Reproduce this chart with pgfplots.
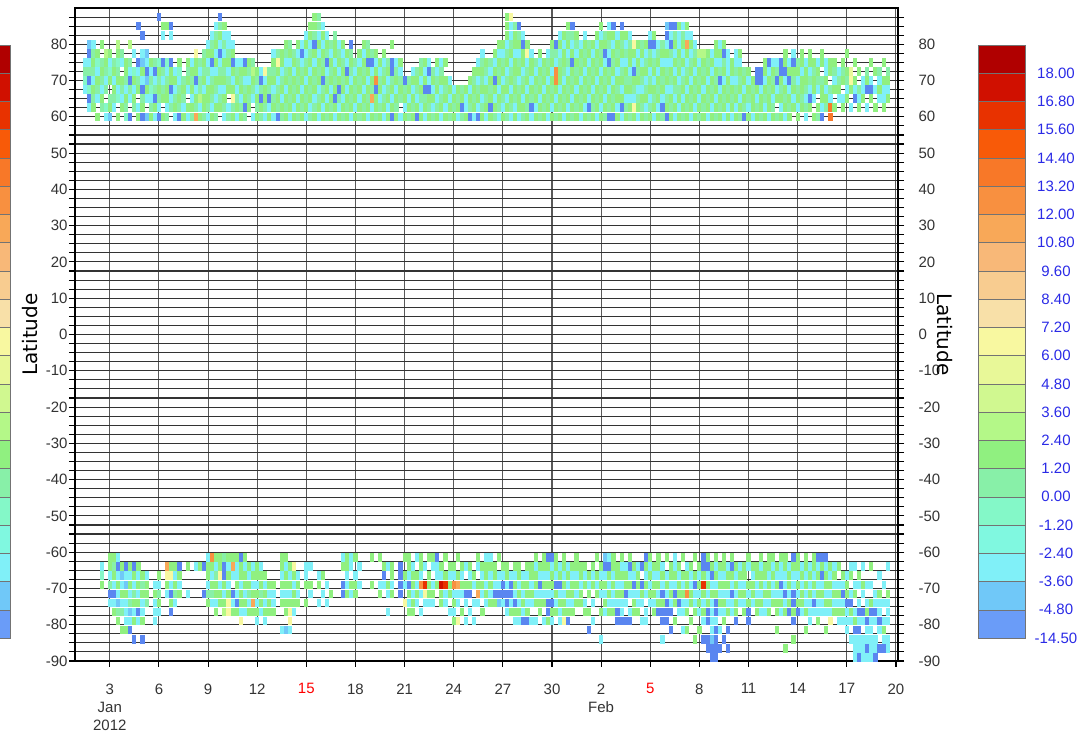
\documentclass[border=0pt]{standalone}
\usepackage{pgfplots}
\usepackage{pgfplotstable}
\pgfplotsset{compat=1.18}
\usepackage{fontspec}
\setmainfont{Liberation Sans}
\newfontfamily\dvs{DejaVu Sans}
\newcommand\tickfont{\fontsize{15}{18}\selectfont}
\newcommand\labfont{\dvs\fontsize{20}{24}\selectfont}
\definecolor{cA}{HTML}{B00000}
\definecolor{cB}{HTML}{D01000}
\definecolor{cC}{HTML}{E83200}
\definecolor{cD}{HTML}{F85A08}
\definecolor{cE}{HTML}{F87828}
\definecolor{cF}{HTML}{F89040}
\definecolor{cG}{HTML}{F8A858}
\definecolor{cH}{HTML}{F8B878}
\definecolor{cI}{HTML}{F8CC90}
\definecolor{cJ}{HTML}{F8E0A8}
\definecolor{cK}{HTML}{F8F8A0}
\definecolor{cL}{HTML}{E8F898}
\definecolor{cM}{HTML}{D0F890}
\definecolor{cN}{HTML}{B4F888}
\definecolor{cO}{HTML}{90F080}
\definecolor{cP}{HTML}{88F0A8}
\definecolor{cQ}{HTML}{84F8C8}
\definecolor{cR}{HTML}{80F8E0}
\definecolor{cS}{HTML}{80F0F8}
\definecolor{cT}{HTML}{70C8F8}
\definecolor{cU}{HTML}{6A9CF8}
\definecolor{dU}{HTML}{5A86F0}
\definecolor{cbblue}{HTML}{2A2AE6}
\pgfdeclareplotmark{cell}{\pgfpathrectangle{\pgfqpoint{-2.1pt}{-4.3pt}}{\pgfqpoint{4.2pt}{8.6pt}}\pgfusepathqfill}
\pgfplotstableread{
t y c
2 67.5 s
2 70 q
2 72.5 p
2 75 s
3 62.5 s
3 65 u
3 67.5 q
3 70 u
3 72.5 p
3 75 s
3 77.5 u
3 80 t
4 62.5 o
4 65 p
4 67.5 o
4 70 s
4 72.5 p
4 75 o
4 77.5 p
4 80 s
5 60 o
5 65 s
5 67.5 p
5 70 o
5 72.5 s
5 75 q
5 77.5 o
6 62.5 p
6 65 o
6 67.5 s
6 70 p
6 72.5 o
6 75 p
6 80 o
7 60 s
7 62.5 q
7 67.5 p
7 70 s
7 72.5 p
7 75 o
7 77.5 n
8 60 t
8 62.5 o
8 65 p
8 70 o
8 72.5 q
8 75 s
8 77.5 o
9 62.5 s
9 65 p
9 67.5 o
9 70 s
9 72.5 o
9 75 p
10 60 o
10 65 q
10 67.5 s
10 70 o
10 72.5 p
10 75 q
10 77.5 o
10 80 n
11 62.5 o
11 65 s
11 67.5 p
11 70 o
11 75 s
11 77.5 p
12 60 q
12 62.5 p
12 65 o
12 67.5 s
12 70 p
12 72.5 o
12 75 o
13 60 u
13 65 s
13 67.5 p
13 70 u
13 72.5 s
13 75 p
13 80 n
14 62.5 p
14 65 o
14 67.5 s
14 70 o
14 72.5 q
14 77.5 s
15 60 o
15 62.5 s
15 67.5 o
15 70 p
15 72.5 s
15 75 u
15 85 u
16 60 u
16 62.5 o
16 65 p
16 67.5 u
16 70 s
16 72.5 o
16 75 t
16 77.5 s
16 82.5 u
17 60 t
17 65 s
17 67.5 o
17 70 t
17 72.5 u
17 75 s
17 77.5 t
18 60 o
18 62.5 p
18 65 s
18 67.5 q
18 70 p
18 72.5 s
18 75 o
19 60 s
19 62.5 o
19 65 u
19 67.5 p
19 70 s
19 72.5 u
19 75 p
20 60 u
20 62.5 s
20 65 p
20 67.5 o
20 70 p
20 72.5 o
20 75 q
20 87.5 u
21 60 o
21 65 o
21 67.5 p
21 70 s
21 72.5 p
21 75 u
21 82.5 s
21 85 o
22 60 p
22 62.5 s
22 65 o
22 67.5 o
22 70 p
22 72.5 s
22 75 q
22 85 o
23 62.5 p
23 65 s
23 67.5 u
23 70 o
23 72.5 o
23 75 u
23 82.5 s
23 85 u
24 60 s
24 62.5 o
24 65 p
24 67.5 s
24 70 o
24 72.5 s
25 60 u
25 62.5 p
25 65 o
25 67.5 p
25 70 s
25 72.5 q
25 75 o
26 60 o
26 62.5 s
26 65 p
26 67.5 o
26 70 p
27 60 s
27 62.5 o
27 67.5 s
27 70 o
27 72.5 p
27 75 o
28 60 p
28 62.5 o
28 65 s
28 67.5 o
28 70 p
28 72.5 o
28 75 s
29 60 g
29 62.5 p
29 65 o
29 67.5 s
29 70 u
29 72.5 o
29 75 o
29 77.5 k
30 60 o
30 62.5 s
30 65 n
30 67.5 p
30 70 p
30 72.5 s
30 75 p
31 60 p
31 62.5 o
31 65 o
31 67.5 s
31 70 o
31 72.5 p
31 75 o
31 77.5 p
32 60 s
32 62.5 p
32 65 o
32 67.5 o
32 70 s
32 72.5 p
32 75 s
32 77.5 o
32 80 s
33 60 o
33 62.5 s
33 65 p
33 67.5 o
33 70 p
33 72.5 s
33 75 u
33 77.5 o
33 80 p
33 82.5 s
34 60 p
34 62.5 o
34 65 s
34 67.5 p
34 70 o
34 72.5 s
34 75 o
34 77.5 s
34 80 o
34 82.5 p
34 85 s
35 62.5 o
35 65 p
35 67.5 s
35 70 o
35 72.5 p
35 75 s
35 77.5 u
35 80 s
35 82.5 o
35 85 p
35 87.5 u
36 60 s
36 62.5 p
36 65 o
36 67.5 s
36 70 o
36 72.5 p
36 75 o
36 77.5 s
36 80 p
36 82.5 s
36 85 o
37 60 p
37 62.5 s
37 67.5 o
37 70 p
37 72.5 s
37 75 o
37 77.5 p
37 80 s
37 82.5 s
38 60 o
38 62.5 p
38 65 k
38 67.5 o
38 70 s
38 72.5 o
38 75 u
38 77.5 o
38 80 s
39 60 s
39 62.5 o
39 65 p
39 67.5 s
39 70 o
39 72.5 p
39 75 s
40 60 o
40 62.5 p
40 65 s
40 67.5 o
40 70 p
40 72.5 o
40 75 s
41 60 p
41 62.5 u
41 65 o
41 67.5 p
41 70 s
41 72.5 o
41 75 u
42 62.5 o
42 65 p
42 67.5 o
42 70 s
42 72.5 p
42 75 o
43 60 s
43 65 s
43 67.5 p
43 70 o
43 72.5 n
43 75 p
44 60 o
44 62.5 p
44 65 o
44 67.5 s
44 70 p
44 72.5 o
45 60 p
45 62.5 o
45 65 u
45 67.5 p
45 70 u
45 72.5 s
46 60 s
46 62.5 p
46 65 o
46 67.5 o
46 70 s
46 72.5 k
47 60 o
47 62.5 s
47 65 u
47 67.5 p
47 70 o
47 72.5 p
48 60 s
48 62.5 o
48 65 p
48 67.5 s
48 70 o
48 72.5 p
48 75 o
48 77.5 s
49 60 u
49 62.5 p
49 65 o
49 67.5 p
49 70 s
49 72.5 o
49 75 k
49 77.5 p
50 60 p
50 62.5 o
50 65 s
50 67.5 o
50 70 p
50 72.5 s
50 75 o
50 77.5 o
51 60 o
51 62.5 p
51 65 o
51 67.5 s
51 70 o
51 72.5 p
51 75 s
51 77.5 p
51 80 o
52 60 s
52 62.5 o
52 65 p
52 67.5 o
52 70 p
52 72.5 o
52 75 s
52 77.5 o
52 80 p
53 60 o
53 62.5 s
53 65 o
53 67.5 p
53 70 o
53 72.5 s
53 75 o
53 77.5 p
54 60 p
54 62.5 o
54 65 s
54 67.5 o
54 70 p
54 72.5 o
54 75 p
54 77.5 s
54 80 o
55 60 o
55 62.5 p
55 65 o
55 67.5 s
55 70 o
55 72.5 p
55 75 s
55 77.5 u
55 80 s
56 60 s
56 62.5 o
56 65 p
56 67.5 o
56 70 s
56 72.5 o
56 75 p
56 77.5 s
56 80 o
56 82.5 s
57 60 p
57 62.5 s
57 65 o
57 67.5 p
57 70 o
57 72.5 s
57 75 o
57 77.5 p
57 80 s
57 82.5 o
57 85 o
58 60 o
58 62.5 p
58 65 s
58 67.5 o
58 70 p
58 72.5 o
58 75 s
58 77.5 o
58 80 u
58 82.5 p
58 85 o
58 87.5 o
59 60 s
59 62.5 o
59 65 p
59 67.5 s
59 70 o
59 72.5 p
59 75 o
59 77.5 s
59 80 o
59 82.5 s
59 85 p
59 87.5 p
60 60 o
60 62.5 s
60 65 o
60 67.5 p
60 70 u
60 72.5 o
60 75 p
60 77.5 o
60 80 s
60 82.5 o
60 85 s
61 60 p
61 62.5 o
61 65 s
61 67.5 o
61 70 p
61 72.5 s
61 75 u
61 77.5 p
61 80 o
61 82.5 s
62 60 o
62 62.5 p
62 65 o
62 67.5 s
62 70 o
62 72.5 p
62 75 o
62 77.5 s
62 80 p
63 60 s
63 62.5 o
63 65 u
63 67.5 o
63 70 p
63 72.5 o
63 75 s
63 77.5 o
63 80 o
63 82.5 p
64 60 o
64 62.5 s
64 65 p
64 67.5 u
64 70 o
64 72.5 s
64 75 o
64 77.5 p
64 80 s
65 60 p
65 62.5 o
65 65 s
65 67.5 o
65 70 p
65 72.5 o
65 75 p
65 77.5 s
65 80 o
66 60 o
66 62.5 p
66 65 o
66 67.5 s
66 70 o
66 72.5 u
66 75 s
66 77.5 o
67 60 s
67 62.5 o
67 65 p
67 67.5 o
67 70 s
67 72.5 p
67 75 o
67 77.5 p
67 80 u
68 60 o
68 62.5 s
68 65 o
68 67.5 p
68 70 o
68 72.5 s
68 75 p
69 60 p
69 62.5 o
69 65 s
69 67.5 o
69 70 p
69 72.5 o
69 75 s
69 77.5 o
70 60 o
70 62.5 p
70 65 o
70 67.5 s
70 70 o
70 72.5 p
70 75 o
70 77.5 s
70 80 o
71 60 s
71 62.5 o
71 65 p
71 67.5 o
71 70 s
71 72.5 o
71 75 u
71 77.5 o
71 80 p
72 60 o
72 62.5 s
72 65 g
72 67.5 p
72 70 o
72 72.5 s
72 75 u
72 77.5 p
73 60 p
73 62.5 o
73 65 o
73 67.5 u
73 70 f
73 72.5 o
73 75 s
73 77.5 o
74 60 o
74 62.5 p
74 65 s
74 67.5 o
74 70 p
74 72.5 s
74 75 o
75 60 s
75 62.5 o
75 65 p
75 67.5 s
75 70 o
75 72.5 p
75 75 s
75 77.5 o
76 60 o
76 62.5 s
76 65 o
76 67.5 p
76 70 s
76 72.5 o
76 75 p
77 60 u
77 62.5 o
77 65 s
77 67.5 o
77 70 p
77 72.5 u
77 75 u
77 80 o
78 60 o
78 62.5 p
78 65 o
78 67.5 s
78 70 o
78 72.5 p
78 75 s
79 60 s
79 65 p
79 67.5 o
79 70 p
79 72.5 s
79 75 o
80 60 o
80 62.5 s
80 65 o
80 67.5 p
80 70 u
81 60 p
81 62.5 o
81 65 s
81 67.5 o
81 70 p
82 60 o
82 62.5 p
82 65 o
82 67.5 s
82 70 o
82 72.5 s
83 60 u
83 62.5 o
83 65 s
83 67.5 p
83 70 o
83 72.5 p
84 60 o
84 62.5 s
84 65 p
84 67.5 o
84 70 s
84 72.5 o
84 75 p
85 60 s
85 62.5 o
85 65 p
85 67.5 u
85 70 o
85 72.5 s
85 75 o
86 60 o
86 62.5 p
86 65 o
86 67.5 u
86 70 s
86 72.5 u
86 75 s
87 60 p
87 62.5 s
87 65 o
87 67.5 s
87 70 o
87 72.5 p
88 60 o
88 62.5 p
88 65 s
88 67.5 o
88 70 p
88 72.5 s
88 75 o
89 60 s
89 62.5 o
89 65 p
89 67.5 s
89 70 o
89 72.5 p
89 75 s
90 60 o
90 62.5 s
90 65 o
90 67.5 p
90 70 o
90 75 o
91 60 p
91 62.5 o
91 65 s
91 67.5 o
91 70 s
92 60 o
92 62.5 p
92 65 o
92 67.5 s
93 60 s
93 62.5 o
93 65 p
93 67.5 o
94 60 p
94 62.5 u
94 65 o
94 67.5 p
95 60 o
95 62.5 s
95 65 s
95 67.5 o
96 60 u
96 62.5 p
96 65 o
96 67.5 s
96 70 o
97 60 s
97 62.5 o
97 65 p
97 67.5 o
97 70 p
97 72.5 o
98 60 u
98 62.5 s
98 65 o
98 67.5 p
98 70 s
98 72.5 o
98 75 s
99 60 o
99 62.5 p
99 65 s
99 67.5 o
99 70 p
99 72.5 o
99 75 p
99 77.5 s
100 60 s
100 62.5 o
100 65 p
100 67.5 o
100 70 s
100 72.5 p
100 75 o
101 60 o
101 62.5 u
101 65 o
101 67.5 p
101 70 o
101 72.5 s
101 75 p
102 60 p
102 62.5 o
102 65 s
102 67.5 o
102 70 u
102 72.5 o
102 75 s
102 77.5 o
103 60 s
103 62.5 p
103 65 o
103 67.5 s
103 70 o
103 72.5 p
103 75 o
103 77.5 s
103 80 o
104 60 o
104 62.5 s
104 65 p
104 67.5 o
104 70 s
104 72.5 o
104 75 p
104 77.5 s
104 80 o
105 60 p
105 62.5 o
105 65 s
105 67.5 o
105 70 p
105 72.5 s
105 75 o
105 77.5 p
105 80 s
105 82.5 o
105 85 o
105 87.5 o
106 60 s
106 62.5 p
106 65 o
106 67.5 s
106 70 o
106 72.5 p
106 75 s
106 77.5 o
106 80 p
106 82.5 s
106 85 s
106 87.5 k
107 60 o
107 62.5 s
107 65 p
107 67.5 o
107 70 p
107 72.5 o
107 75 o
107 77.5 s
107 80 o
107 82.5 o
107 85 p
108 60 s
108 62.5 o
108 65 o
108 67.5 p
108 70 s
108 72.5 o
108 75 p
108 77.5 s
108 80 o
108 82.5 p
108 85 u
109 60 p
109 62.5 o
109 65 s
109 67.5 o
109 70 p
109 72.5 s
109 75 o
109 77.5 o
109 80 u
109 82.5 s
110 60 o
110 62.5 p
110 65 o
110 67.5 s
110 70 o
110 72.5 p
110 75 s
110 77.5 k
110 80 o
111 60 s
111 62.5 u
111 65 p
111 67.5 o
111 70 s
111 72.5 o
111 75 o
111 77.5 s
112 60 o
112 62.5 s
112 65 o
112 67.5 p
112 70 o
112 72.5 s
112 75 p
113 60 p
113 62.5 o
113 65 s
113 67.5 o
113 70 p
113 72.5 o
113 75 s
113 77.5 o
114 60 o
114 62.5 p
114 65 o
114 67.5 s
114 70 o
114 72.5 p
114 75 o
115 60 s
115 62.5 o
115 65 p
115 67.5 o
115 70 s
115 72.5 o
115 75 p
115 77.5 s
116 60 o
116 62.5 s
116 65 o
116 67.5 p
116 70 o
116 72.5 s
116 75 o
116 77.5 p
116 80 o
117 60 p
117 62.5 o
117 65 s
117 67.5 o
117 70 f
117 72.5 f
117 75 s
117 77.5 p
117 80 u
118 60 o
118 62.5 p
118 65 o
118 67.5 s
118 70 o
118 72.5 o
118 75 p
118 77.5 s
118 80 o
118 82.5 s
119 60 s
119 62.5 o
119 65 p
119 67.5 o
119 70 s
119 72.5 p
119 75 o
119 77.5 o
119 80 s
119 82.5 o
120 60 o
120 62.5 s
120 65 o
120 67.5 p
120 70 o
120 72.5 s
120 75 p
120 77.5 s
120 80 o
120 82.5 p
120 85 o
121 60 p
121 62.5 o
121 65 s
121 67.5 o
121 70 p
121 72.5 o
121 75 u
121 77.5 o
121 80 s
121 82.5 p
121 85 u
122 60 o
122 62.5 p
122 65 o
122 67.5 s
122 70 o
122 72.5 p
122 75 o
122 77.5 s
122 80 p
122 82.5 o
123 60 s
123 62.5 o
123 65 p
123 67.5 o
123 70 s
123 72.5 o
123 75 p
123 77.5 o
123 80 s
124 60 o
124 62.5 s
124 65 o
124 67.5 p
124 70 o
124 72.5 s
124 75 o
124 77.5 p
124 80 o
124 82.5 s
125 60 p
125 62.5 u
125 65 s
125 67.5 o
125 70 p
125 72.5 o
125 75 s
125 77.5 o
125 80 p
126 60 o
126 62.5 p
126 65 o
126 67.5 s
126 70 o
126 72.5 p
126 75 o
126 77.5 s
126 80 o
127 60 s
127 62.5 o
127 65 p
127 67.5 o
127 70 s
127 72.5 o
127 75 p
127 77.5 o
127 80 s
127 82.5 o
128 60 o
128 62.5 s
128 65 o
128 67.5 p
128 70 o
128 72.5 s
128 75 o
128 77.5 p
128 80 o
128 82.5 s
128 85 o
129 60 p
129 62.5 o
129 65 s
129 67.5 o
129 70 p
129 72.5 o
129 75 s
129 77.5 u
129 80 o
129 82.5 p
130 60 u
130 62.5 p
130 65 o
130 67.5 s
130 70 o
130 72.5 p
130 75 u
130 77.5 s
130 80 p
130 82.5 o
130 85 s
131 60 u
131 62.5 o
131 65 p
131 67.5 o
131 70 s
131 72.5 o
131 75 p
131 77.5 o
131 80 s
131 82.5 o
131 85 u
132 60 o
132 62.5 s
132 65 o
132 67.5 p
132 70 o
132 72.5 s
132 75 o
132 77.5 p
132 80 o
132 82.5 s
133 60 s
133 62.5 u
133 65 o
133 67.5 s
133 70 o
133 72.5 p
133 75 s
133 77.5 o
133 80 p
133 82.5 o
133 85 u
134 60 o
134 62.5 p
134 65 s
134 67.5 o
134 70 p
134 72.5 o
134 75 s
134 77.5 p
134 80 s
134 82.5 o
135 60 p
135 62.5 o
135 65 s
135 67.5 o
135 70 p
135 72.5 s
135 75 o
135 77.5 o
135 80 p
135 82.5 s
136 60 o
136 62.5 k
136 65 s
136 67.5 p
136 70 o
136 72.5 u
136 75 s
136 77.5 o
136 80 k
137 60 s
137 62.5 o
137 65 p
137 67.5 s
137 70 o
137 72.5 p
137 75 o
137 77.5 s
137 80 o
138 60 o
138 62.5 p
138 65 o
138 67.5 s
138 70 p
138 72.5 o
138 75 s
138 77.5 o
138 80 p
139 60 p
139 62.5 s
139 65 o
139 67.5 p
139 70 s
139 72.5 o
139 75 p
139 77.5 s
139 80 o
140 60 o
140 62.5 p
140 65 s
140 67.5 o
140 70 p
140 72.5 s
140 75 o
140 77.5 p
140 80 u
140 82.5 s
141 60 s
141 62.5 o
141 65 p
141 67.5 o
141 70 s
141 72.5 o
141 75 p
141 77.5 s
141 80 u
141 82.5 o
142 60 o
142 62.5 s
142 65 o
142 67.5 p
142 70 o
142 72.5 s
142 75 o
142 77.5 p
142 80 s
143 60 p
143 62.5 u
143 65 s
143 67.5 o
143 70 p
143 72.5 o
143 75 s
143 77.5 o
143 80 p
144 60 u
144 62.5 o
144 65 p
144 67.5 s
144 70 o
144 72.5 p
144 75 s
144 77.5 o
144 80 s
144 82.5 u
144 85 t
145 60 o
145 62.5 p
145 65 o
145 67.5 s
145 70 p
145 72.5 o
145 75 s
145 77.5 p
145 80 u
145 82.5 s
145 85 u
146 60 s
146 62.5 o
146 65 s
146 67.5 p
146 70 o
146 72.5 s
146 75 o
146 77.5 s
146 80 o
146 82.5 p
146 85 u
147 60 o
147 62.5 s
147 65 o
147 67.5 p
147 70 s
147 72.5 o
147 75 p
147 77.5 o
147 80 s
147 82.5 s
147 85 o
148 60 p
148 62.5 o
148 65 s
148 67.5 o
148 70 p
148 72.5 s
148 75 o
148 77.5 s
148 80 o
148 82.5 p
148 85 s
149 60 o
149 62.5 p
149 65 o
149 67.5 s
149 70 o
149 72.5 p
149 75 s
149 77.5 o
149 80 g
149 82.5 s
149 85 o
150 60 s
150 62.5 o
150 65 p
150 67.5 o
150 70 s
150 72.5 o
150 75 p
150 77.5 s
150 80 o
150 82.5 s
151 60 o
151 62.5 s
151 65 o
151 67.5 p
151 70 o
151 72.5 s
151 75 o
151 77.5 p
151 80 s
152 60 p
152 62.5 o
152 65 s
152 67.5 o
152 70 p
152 72.5 o
152 75 s
152 77.5 n
153 60 o
153 62.5 p
153 65 o
153 67.5 s
153 70 o
153 72.5 p
153 75 o
153 77.5 n
154 60 s
154 62.5 o
154 65 p
154 67.5 o
154 70 s
154 72.5 o
154 75 p
154 77.5 o
155 60 o
155 62.5 s
155 65 o
155 67.5 p
155 70 o
155 72.5 s
155 75 o
155 77.5 s
156 60 p
156 62.5 o
156 65 s
156 67.5 o
156 70 p
156 72.5 o
156 75 s
156 77.5 o
156 80 o
157 60 o
157 62.5 p
157 65 o
157 67.5 s
157 70 u
157 72.5 p
157 75 s
157 77.5 o
157 80 s
158 60 s
158 62.5 o
158 65 p
158 67.5 o
158 70 s
158 72.5 o
158 75 p
158 77.5 u
158 80 o
159 60 o
159 62.5 s
159 65 o
159 67.5 p
159 70 o
159 72.5 s
159 75 s
159 77.5 s
160 60 s
160 62.5 o
160 65 p
160 67.5 o
160 70 s
160 72.5 o
160 75 o
161 60 o
161 62.5 s
161 65 o
161 67.5 p
161 70 s
161 72.5 p
161 75 s
161 77.5 s
162 60 p
162 62.5 o
162 65 s
162 67.5 o
162 70 p
162 72.5 o
162 75 s
162 77.5 o
163 60 u
163 62.5 p
163 65 o
163 67.5 s
163 70 o
163 72.5 p
164 60 o
164 62.5 s
164 65 p
164 67.5 o
164 70 s
164 72.5 o
165 60 s
165 62.5 o
165 65 o
165 67.5 p
165 70 o
166 60 o
166 62.5 p
166 65 s
166 67.5 o
166 70 u
166 72.5 u
167 60 p
167 62.5 o
167 65 o
167 67.5 s
167 70 u
167 72.5 u
168 60 o
168 62.5 s
168 65 p
168 67.5 o
168 70 s
168 72.5 o
168 75 o
169 60 s
169 62.5 o
169 65 o
169 67.5 p
169 70 o
169 72.5 s
169 75 u
170 60 o
170 62.5 p
170 65 s
170 67.5 o
170 70 p
170 72.5 o
170 75 s
171 60 p
171 65 o
171 67.5 s
171 70 u
171 72.5 p
171 75 s
172 60 o
172 62.5 s
172 65 o
172 67.5 p
172 70 o
172 72.5 u
172 75 u
173 60 s
173 62.5 o
173 65 p
173 67.5 o
173 70 s
173 72.5 u
173 75 o
173 77.5 o
174 60 o
174 62.5 p
174 65 o
174 67.5 s
174 70 u
174 72.5 o
174 75 s
175 62.5 o
175 65 s
175 67.5 o
175 70 p
175 72.5 o
175 75 u
175 77.5 s
176 60 o
176 62.5 s
176 65 o
176 67.5 p
176 70 s
176 72.5 o
176 75 p
177 62.5 o
177 65 p
177 67.5 o
177 70 o
177 72.5 s
177 75 o
177 77.5 o
178 60 s
178 62.5 p
178 65 s
178 67.5 p
178 70 o
178 72.5 o
178 75 s
179 62.5 o
179 65 u
179 67.5 s
179 70 p
179 72.5 s
179 75 o
179 77.5 o
180 60 o
180 65 s
180 67.5 o
180 70 o
180 72.5 p
180 75 o
181 60 p
181 62.5 o
181 67.5 s
181 70 p
181 72.5 o
181 75 s
182 60 u
182 62.5 s
182 65 o
182 67.5 o
182 70 p
182 75 o
182 77.5 o
183 62.5 p
183 65 o
183 67.5 s
183 70 o
183 72.5 s
183 75 s
184 60 e
184 62.5 e
184 65 s
184 67.5 p
184 72.5 o
184 75 o
185 62.5 o
185 67.5 o
185 70 s
185 72.5 p
185 75 o
186 65 s
186 67.5 o
186 70 p
186 72.5 s
187 62.5 o
187 65 s
187 70 o
187 72.5 p
187 75 o
188 65 o
188 67.5 s
188 70 p
188 72.5 o
188 77.5 o
189 62.5 s
189 67.5 o
189 70 k
189 72.5 l
190 65 u
190 67.5 s
190 70 o
190 75 o
191 62.5 o
191 65 s
191 67.5 p
191 72.5 o
192 65 o
192 67.5 s
192 70 s
193 62.5 s
193 67.5 u
193 70 o
193 72.5 p
194 65 o
194 67.5 u
194 70 s
194 75 o
195 62.5 o
195 67.5 s
195 72.5 o
196 65 s
196 67.5 o
196 70 s
196 72.5 p
197 62.5 o
197 65 s
197 67.5 s
197 70 o
197 75 o
198 65 o
198 67.5 s
198 70 o
198 72.5 p
}\north
\pgfplotstableread{
t y c
6 -64 s
6 -66.5 q
6 -69 o
8 -61.5 o
8 -64 o
8 -66.5 s
8 -69 p
8 -71.5 u
8 -74 s
9 -61.5 o
9 -64 p
9 -66.5 o
9 -69 s
9 -71.5 u
9 -74 s
9 -76.5 o
10 -61.5 s
10 -64 u
10 -66.5 s
10 -69 o
10 -71.5 s
10 -74 t
10 -76.5 p
10 -79 o
11 -64 o
11 -66.5 t
11 -69 s
11 -71.5 o
11 -74 s
11 -76.5 p
11 -81.5 o
12 -64 u
12 -66.5 s
12 -69 t
12 -71.5 o
12 -74 s
12 -76.5 s
12 -79 s
12 -81.5 o
13 -64 o
13 -66.5 s
13 -69 o
13 -71.5 s
13 -74 p
13 -76.5 t
13 -79 s
13 -81.5 u
14 -64 u
14 -66.5 o
14 -69 s
14 -71.5 p
14 -74 o
14 -76.5 s
14 -79 o
14 -84 u
15 -64 o
15 -66.5 s
15 -69 o
15 -71.5 s
15 -74 o
15 -76.5 u
15 -79 s
16 -66.5 o
16 -69 p
16 -71.5 o
16 -74 s
16 -76.5 s
16 -79 o
16 -84 u
17 -66.5 s
17 -69 o
17 -71.5 o
17 -74 p
19 -69 s
19 -71.5 o
19 -74 s
19 -76.5 s
19 -79 s
20 -66.5 o
20 -69 s
20 -71.5 p
20 -74 o
20 -76.5 s
22 -64 g
22 -66.5 k
22 -69 o
22 -71.5 s
23 -64 o
23 -66.5 k
23 -69 s
23 -71.5 u
23 -74 o
23 -76.5 u
24 -64 o
24 -66.5 s
24 -69 o
24 -71.5 p
24 -74 s
25 -64 u
25 -66.5 o
25 -69 s
25 -71.5 o
27 -64 o
27 -71.5 s
29 -64 s
30 -64 o
31 -64 u
31 -71.5 u
32 -61.5 s
32 -64 o
32 -66.5 o
32 -69 s
32 -71.5 p
32 -74 o
33 -61.5 f
33 -64 o
33 -66.5 s
33 -69 o
33 -71.5 p
33 -74 s
34 -61.5 o
34 -64 s
34 -66.5 p
34 -69 o
34 -71.5 o
34 -74 s
34 -76.5 o
35 -61.5 o
35 -64 o
35 -66.5 k
35 -69 s
35 -71.5 o
35 -74 o
36 -61.5 p
36 -64 u
36 -66.5 u
36 -69 o
36 -71.5 s
36 -74 o
36 -76.5 n
37 -61.5 o
37 -64 s
37 -66.5 o
37 -69 s
37 -71.5 o
37 -74 k
37 -76.5 k
38 -61.5 o
38 -64 g
38 -66.5 s
38 -71.5 u
38 -74 s
38 -76.5 o
39 -61.5 o
39 -64 s
39 -66.5 s
39 -69 o
39 -71.5 s
39 -74 u
39 -76.5 o
40 -61.5 u
40 -64 o
40 -66.5 o
40 -69 s
40 -71.5 o
40 -74 o
40 -76.5 s
40 -79 k
41 -61.5 o
41 -64 s
41 -66.5 o
41 -69 o
41 -71.5 s
41 -74 o
41 -76.5 s
42 -64 o
42 -66.5 s
42 -69 o
42 -71.5 p
42 -74 s
42 -76.5 o
43 -64 s
43 -66.5 o
43 -69 s
43 -71.5 o
43 -74 g
43 -76.5 o
44 -64 o
44 -66.5 o
44 -69 s
44 -71.5 o
44 -74 s
44 -76.5 o
44 -79 s
45 -64 s
45 -66.5 o
45 -69 o
45 -71.5 p
45 -74 o
45 -76.5 s
46 -66.5 o
46 -69 s
46 -71.5 o
46 -74 s
46 -76.5 o
46 -79 s
47 -69 o
47 -71.5 s
47 -74 o
47 -76.5 o
48 -69 o
48 -71.5 s
48 -74 s
48 -76.5 o
50 -61.5 o
50 -64 o
50 -66.5 s
50 -69 o
50 -71.5 s
50 -74 o
50 -81.5 s
51 -61.5 o
51 -64 s
51 -66.5 o
51 -69 o
51 -71.5 s
51 -74 o
51 -76.5 o
51 -81.5 t
52 -64 o
52 -66.5 s
52 -69 o
52 -71.5 s
52 -74 o
52 -76.5 k
52 -79 k
52 -81.5 s
53 -64 k
53 -66.5 o
53 -69 s
53 -71.5 o
53 -74 o
53 -76.5 s
54 -66.5 s
54 -69 o
54 -71.5 s
54 -74 o
56 -64 s
56 -66.5 s
56 -69 o
56 -74 o
57 -64 s
57 -69 o
57 -71.5 s
59 -66.5 s
59 -69 o
59 -74 s
60 -66.5 o
60 -71.5 s
61 -69 s
61 -74 s
62 -71.5 o
65 -61.5 s
65 -64 o
65 -69 u
65 -71.5 u
66 -61.5 o
66 -64 o
66 -66.5 s
66 -69 s
66 -71.5 o
67 -61.5 s
67 -64 s
67 -69 o
67 -71.5 s
68 -61.5 o
68 -66.5 s
68 -69 o
68 -71.5 o
69 -64 s
69 -69 s
72 -61.5 o
72 -69 o
74 -61.5 o
74 -69 s
74 -71.5 o
75 -64 o
75 -66.5 u
75 -69 s
76 -64 s
76 -69 o
76 -71.5 s
76 -76.5 s
77 -64 o
77 -66.5 o
77 -69 s
77 -71.5 o
79 -64 u
79 -66.5 u
79 -69 u
79 -71.5 u
80 -61.5 o
80 -66.5 o
80 -69 s
80 -74 k
81 -61.5 o
81 -64 o
81 -66.5 s
81 -69 u
81 -71.5 o
81 -74 s
81 -76.5 o
82 -64 s
82 -66.5 o
82 -69 o
82 -71.5 s
82 -74 o
82 -76.5 o
83 -61.5 s
83 -66.5 o
83 -69 s
83 -71.5 o
83 -74 s
84 -61.5 o
84 -64 o
84 -66.5 s
84 -69 f
84 -71.5 s
84 -76.5 s
85 -64 s
85 -69 c
85 -71.5 k
85 -74 s
86 -61.5 o
86 -66.5 o
86 -69 o
86 -71.5 o
86 -74 s
87 -61.5 o
87 -64 s
87 -69 s
87 -71.5 o
87 -74 s
88 -61.5 u
88 -64 s
88 -66.5 s
88 -69 o
89 -64 o
89 -66.5 s
89 -69 b
89 -71.5 o
89 -74 o
90 -61.5 o
90 -66.5 o
90 -69 c
90 -71.5 s
90 -74 s
91 -64 o
91 -66.5 s
91 -69 o
91 -71.5 o
91 -76.5 s
92 -64 o
92 -66.5 s
92 -69 f
92 -71.5 s
92 -74 o
92 -76.5 s
92 -79 o
93 -61.5 o
93 -66.5 o
93 -69 g
93 -71.5 s
93 -74 s
93 -79 k
94 -64 o
94 -66.5 s
94 -69 o
94 -71.5 s
94 -76.5 o
95 -64 s
95 -69 o
95 -71.5 u
95 -74 s
95 -79 s
96 -64 o
96 -66.5 s
96 -69 o
96 -71.5 u
96 -76.5 s
97 -66.5 o
97 -69 s
97 -74 s
97 -79 s
98 -61.5 o
98 -64 s
98 -69 o
98 -71.5 g
98 -74 s
99 -64 o
99 -66.5 s
99 -69 o
99 -71.5 s
99 -76.5 o
100 -61.5 s
100 -64 o
100 -66.5 o
100 -69 s
100 -71.5 o
100 -74 s
101 -61.5 s
101 -64 o
101 -66.5 s
101 -69 o
101 -71.5 s
101 -74 o
102 -64 o
102 -66.5 o
102 -69 s
102 -71.5 u
102 -74 o
103 -61.5 o
103 -66.5 s
103 -69 s
103 -71.5 u
103 -74 t
104 -64 o
104 -66.5 s
104 -69 u
104 -71.5 u
104 -74 s
105 -64 o
105 -66.5 o
105 -69 s
105 -71.5 u
105 -74 u
105 -76.5 s
106 -66.5 s
106 -69 u
106 -71.5 u
106 -74 s
106 -76.5 o
107 -64 o
107 -66.5 s
107 -69 o
107 -71.5 s
107 -74 u
107 -76.5 o
107 -79 s
108 -64 o
108 -66.5 o
108 -69 s
108 -71.5 o
108 -74 s
108 -76.5 o
108 -79 s
109 -66.5 s
109 -69 o
109 -71.5 s
109 -74 o
109 -76.5 s
109 -79 u
110 -64 o
110 -66.5 s
110 -69 o
110 -71.5 o
110 -74 s
110 -76.5 o
110 -79 u
111 -64 o
111 -66.5 o
111 -69 s
111 -71.5 o
111 -74 s
111 -79 s
112 -61.5 o
112 -64 s
112 -66.5 o
112 -69 o
112 -71.5 s
112 -74 o
112 -79 s
113 -64 o
113 -66.5 s
113 -69 u
113 -71.5 s
113 -74 o
113 -76.5 o
114 -61.5 o
114 -64 o
114 -66.5 s
114 -69 o
114 -71.5 s
114 -74 o
114 -79 s
115 -61.5 u
115 -64 o
115 -66.5 s
115 -69 o
115 -71.5 s
115 -74 u
115 -76.5 u
115 -79 o
116 -61.5 u
116 -64 s
116 -66.5 o
116 -69 o
116 -71.5 s
116 -74 u
116 -76.5 o
116 -79 s
117 -61.5 o
117 -64 o
117 -66.5 s
117 -69 u
117 -71.5 o
117 -74 s
117 -76.5 o
118 -64 s
118 -66.5 o
118 -69 u
118 -71.5 s
118 -74 o
118 -76.5 s
118 -79 s
119 -61.5 o
119 -64 o
119 -66.5 s
119 -69 o
119 -71.5 s
119 -74 o
119 -76.5 o
119 -79 k
120 -64 s
120 -66.5 o
120 -69 s
120 -71.5 o
120 -74 s
120 -76.5 o
120 -79 u
121 -64 o
121 -66.5 s
121 -69 o
121 -71.5 o
121 -74 s
121 -76.5 o
122 -61.5 o
122 -64 o
122 -66.5 s
122 -69 o
122 -71.5 s
122 -74 o
123 -64 o
123 -66.5 o
123 -69 s
123 -71.5 o
123 -74 o
124 -64 o
124 -66.5 s
124 -69 o
124 -74 s
124 -76.5 o
125 -66.5 o
125 -69 s
125 -71.5 o
125 -76.5 o
125 -81.5 u
126 -64 o
126 -66.5 s
126 -69 o
126 -74 s
126 -79 s
127 -61.5 o
127 -66.5 o
127 -69 s
127 -71.5 o
128 -64 o
128 -66.5 s
128 -69 o
128 -71.5 s
128 -76.5 o
128 -84 s
129 -61.5 t
129 -64 u
129 -66.5 s
129 -69 o
129 -71.5 s
129 -74 o
129 -76.5 s
130 -61.5 s
130 -64 u
130 -66.5 o
130 -69 s
130 -71.5 o
130 -74 s
130 -76.5 o
131 -61.5 o
131 -64 o
131 -66.5 s
131 -69 o
131 -71.5 s
131 -74 s
131 -76.5 o
132 -64 o
132 -66.5 o
132 -69 s
132 -71.5 o
132 -74 s
132 -76.5 u
132 -79 u
133 -61.5 o
133 -64 s
133 -66.5 o
133 -69 s
133 -71.5 o
133 -74 s
133 -76.5 s
133 -79 u
134 -64 s
134 -66.5 o
134 -69 o
134 -71.5 u
134 -74 s
134 -79 u
135 -61.5 o
135 -64 u
135 -66.5 s
135 -69 o
135 -71.5 s
135 -76.5 s
135 -79 u
136 -64 o
136 -66.5 s
136 -69 u
136 -71.5 s
136 -74 o
136 -76.5 o
137 -64 s
137 -66.5 o
137 -69 o
137 -71.5 s
137 -74 s
137 -76.5 o
138 -64 u
138 -69 u
138 -71.5 o
138 -74 s
138 -79 s
139 -61.5 u
139 -64 o
139 -66.5 s
139 -69 o
139 -71.5 s
139 -76.5 s
139 -79 s
140 -61.5 o
140 -64 s
140 -66.5 o
140 -69 s
140 -71.5 o
140 -74 s
141 -64 o
141 -66.5 s
141 -69 o
141 -71.5 o
141 -74 s
141 -76.5 o
142 -61.5 o
142 -64 o
142 -66.5 s
142 -69 o
142 -71.5 s
142 -74 o
142 -76.5 u
143 -64 s
143 -66.5 o
143 -69 s
143 -71.5 u
143 -74 o
143 -76.5 u
143 -79 u
143 -84 s
144 -61.5 o
144 -66.5 s
144 -69 o
144 -71.5 s
144 -74 u
144 -76.5 u
144 -79 u
145 -64 o
145 -66.5 o
145 -69 s
145 -71.5 o
145 -74 s
145 -76.5 u
145 -81.5 u
146 -61.5 s
146 -64 s
146 -66.5 o
146 -69 s
146 -71.5 u
146 -74 o
146 -79 o
147 -64 o
147 -66.5 s
147 -69 o
147 -71.5 o
147 -74 u
147 -76.5 s
148 -61.5 o
148 -66.5 o
148 -69 s
148 -71.5 o
148 -74 s
148 -76.5 s
148 -81.5 s
149 -64 s
149 -66.5 o
149 -69 o
149 -71.5 f
149 -74 s
149 -76.5 o
149 -81.5 o
150 -64 o
150 -66.5 s
150 -69 s
150 -71.5 o
150 -74 o
150 -79 o
151 -61.5 o
151 -66.5 o
151 -69 u
151 -71.5 s
151 -74 s
151 -76.5 o
151 -84 o
152 -64 o
152 -66.5 s
152 -69 o
152 -71.5 s
152 -74 o
152 -76.5 s
152 -81.5 o
153 -61.5 u
153 -64 u
153 -66.5 o
153 -69 c
153 -71.5 o
153 -74 s
153 -76.5 o
153 -79 s
153 -84 u
154 -61.5 o
154 -64 u
154 -66.5 s
154 -69 o
154 -71.5 s
154 -74 o
154 -76.5 u
154 -79 u
154 -84 u
154 -86.5 u
155 -64 o
155 -66.5 u
155 -69 s
155 -71.5 o
155 -74 s
155 -76.5 s
155 -79 s
155 -81.5 s
155 -84 t
155 -86.5 u
155 -89 u
156 -61.5 o
156 -64 s
156 -66.5 o
156 -69 s
156 -71.5 o
156 -74 u
156 -76.5 u
156 -79 s
156 -81.5 u
156 -84 u
156 -86.5 u
156 -89 u
157 -64 o
157 -66.5 s
157 -69 o
157 -71.5 s
157 -74 o
157 -76.5 s
157 -81.5 s
157 -86.5 u
158 -61.5 o
158 -64 o
158 -66.5 s
158 -69 o
158 -71.5 s
158 -74 o
158 -76.5 s
158 -79 o
158 -84 u
159 -64 s
159 -66.5 o
159 -69 o
159 -71.5 s
159 -74 s
159 -76.5 o
159 -81.5 u
159 -86.5 u
160 -61.5 o
160 -64 u
160 -66.5 o
160 -69 s
160 -71.5 u
160 -74 s
160 -76.5 s
161 -64 o
161 -66.5 s
161 -69 o
161 -71.5 s
161 -74 o
161 -76.5 o
161 -79 u
162 -64 s
162 -66.5 o
162 -69 s
162 -71.5 o
162 -74 s
163 -64 o
163 -66.5 o
163 -69 s
163 -71.5 o
163 -74 s
163 -76.5 o
164 -61.5 o
164 -64 s
164 -69 o
164 -71.5 s
164 -74 o
164 -76.5 u
164 -79 u
165 -64 o
165 -66.5 s
165 -69 o
165 -71.5 o
165 -74 s
166 -64 o
166 -66.5 o
166 -69 s
166 -71.5 s
166 -74 o
166 -76.5 o
167 -61.5 o
167 -64 s
167 -66.5 o
167 -69 o
167 -71.5 s
167 -74 o
167 -76.5 s
168 -64 o
168 -66.5 o
168 -69 s
168 -71.5 o
168 -74 s
168 -76.5 s
169 -61.5 o
169 -64 o
169 -66.5 s
169 -69 o
169 -71.5 o
169 -74 s
169 -76.5 o
170 -61.5 o
170 -64 s
170 -66.5 o
170 -69 s
170 -71.5 s
170 -74 o
171 -64 o
171 -66.5 s
171 -69 o
171 -71.5 s
171 -74 o
171 -76.5 o
171 -81.5 o
172 -61.5 o
172 -64 s
172 -66.5 s
172 -69 u
172 -71.5 s
172 -74 o
172 -76.5 s
173 -61.5 o
173 -64 o
173 -66.5 s
173 -69 s
173 -71.5 u
173 -74 s
173 -76.5 o
173 -86.5 o
174 -64 s
174 -66.5 o
174 -69 o
174 -71.5 s
174 -74 o
174 -76.5 u
175 -61.5 u
175 -64 o
175 -66.5 s
175 -69 s
175 -71.5 u
175 -74 u
175 -76.5 o
175 -79 u
175 -84 o
176 -61.5 o
176 -64 o
176 -66.5 s
176 -69 o
176 -71.5 s
176 -74 o
176 -76.5 u
177 -64 s
177 -66.5 o
177 -69 s
177 -71.5 o
177 -74 o
177 -76.5 s
178 -61.5 o
178 -64 o
178 -66.5 s
178 -69 o
178 -71.5 s
178 -74 s
178 -76.5 o
178 -81.5 o
179 -64 s
179 -66.5 o
179 -69 s
179 -71.5 o
179 -74 s
179 -76.5 s
179 -79 s
180 -61.5 o
180 -64 o
180 -66.5 s
180 -69 o
180 -71.5 s
180 -74 u
180 -76.5 s
181 -61.5 u
181 -64 s
181 -66.5 o
181 -69 s
181 -71.5 o
181 -74 s
181 -76.5 s
181 -79 o
182 -61.5 u
182 -64 o
182 -66.5 u
182 -69 s
182 -71.5 o
182 -74 s
182 -76.5 s
183 -61.5 u
183 -64 s
183 -66.5 o
183 -69 o
183 -71.5 s
183 -74 o
183 -76.5 s
183 -81.5 o
184 -64 o
184 -66.5 s
184 -69 o
184 -71.5 s
184 -74 o
184 -76.5 s
184 -79 k
185 -64 s
185 -66.5 o
185 -69 s
185 -71.5 o
185 -74 s
185 -76.5 o
186 -64 o
186 -69 s
186 -71.5 o
186 -74 s
186 -76.5 o
186 -79 s
187 -66.5 o
187 -69 s
187 -71.5 u
187 -74 s
187 -76.5 o
187 -79 s
188 -66.5 s
188 -69 o
188 -71.5 o
188 -74 u
188 -76.5 s
188 -79 s
188 -81.5 s
189 -64 s
189 -66.5 o
189 -71.5 s
189 -74 u
189 -76.5 o
189 -79 s
189 -84 s
190 -64 s
190 -69 s
190 -71.5 o
190 -76.5 s
190 -79 o
190 -81.5 u
190 -84 s
190 -86.5 s
190 -89 s
191 -66.5 o
191 -69 s
191 -74 s
191 -76.5 u
191 -79 s
191 -81.5 u
191 -84 s
191 -86.5 s
191 -89 u
192 -64 s
192 -69 o
192 -71.5 s
192 -76.5 u
192 -79 s
192 -84 s
192 -86.5 s
192 -89 s
193 -69 s
193 -74 s
193 -76.5 o
193 -79 u
193 -81.5 s
193 -84 s
193 -86.5 u
193 -89 s
194 -64 o
194 -69 s
194 -74 o
194 -76.5 u
194 -79 s
194 -81.5 s
194 -84 s
194 -86.5 s
194 -89 s
195 -71.5 s
195 -74 s
195 -76.5 u
195 -79 s
195 -84 s
195 -86.5 s
195 -89 u
196 -66.5 s
196 -71.5 o
196 -74 s
196 -76.5 s
196 -79 u
196 -81.5 s
196 -86.5 u
197 -69 s
197 -74 s
197 -79 s
197 -81.5 o
197 -84 s
197 -86.5 u
198 -64 s
198 -71.5 o
198 -74 s
198 -76.5 s
198 -79 s
198 -84 s
198 -86.5 s
}\south
\pgfplotsset{
  latcells/.style={scatter, only marks, mark=cell, scatter src=explicit symbolic,
    scatter/classes={a={cA},b={cB},c={cC},d={cD},e={cE},f={cF},g={cG},h={cH},i={cI},j={cJ},k={cK},
      l={cL},m={cM},n={cN},o={cO},p={cP},q={cQ},r={cR},s={cS},t={cT},u={dU}}},
  cbbox/.style={fill=#1, draw=black!55, line width=0.5pt},
}
\begin{document}
\begin{tikzpicture}
\useasboundingbox (0pt,0pt) rectangle (1082pt,736pt);
% main axis
\begin{axis}[
  at={(75pt,75pt)}, anchor=south west, scale only axis,
  width=823pt, height=653pt,
  xmin=-0.5, xmax=200.5, ymin=-90, ymax=90,
  axis on top,
  xtick={8,20,...,200},
  xticklabels={{3\\Jan\\2012},6,9,12,{\textcolor{red}{15}},18,21,24,27,30,{2\\Feb},{\textcolor{red}{5}},8,11,14,17,20},
  xticklabel style={align=center, font=\tickfont, text=black!80, yshift=-13pt},
  ytick={-90,-80,...,80},
  yticklabels={-90,-80,-70,-60,-50,-40,-30,-20,-10,0,10,20,30,40,50,60,70,80},
  yticklabel style={font=\tickfont, text=black!80, xshift=2pt},
  minor ytick={-87.5,-85,...,87.5},
  xtick pos=bottom, ytick pos=left,
  tick align=outside,
  major tick length=6pt, minor tick length=6pt,
  tick style={black, line width=1.1pt},
  xmajorgrids, ymajorgrids, yminorgrids,
  x grid style={black!65, line width=1.05pt},
  y grid style={black!80, line width=1.1pt},
  minor grid style={black!80, line width=1.1pt},
  axis line style={black, line width=1.6pt},
  ylabel={Latitude},
  ylabel style={font=\labfont, at={(axis description cs:-0.0547,0.5)}, anchor=center},
]
\addplot[latcells] table[x=t, y=y, meta=c] {\north};
\addplot[latcells] table[x=t, y=y, meta=c] {\south};
\end{axis}
% right-hand latitude axis
\begin{axis}[
  at={(75pt,75pt)}, anchor=south west, scale only axis,
  width=823pt, height=653pt,
  xmin=-0.5, xmax=200.5, ymin=-90, ymax=90,
  axis x line=none, axis y line*=right,
  ytick={-90,-80,...,80},
  yticklabels={-90,-80,-70,-60,-50,-40,-30,-20,-10,0,10,20,30,40,50,60,70,80},
  yticklabel style={font=\tickfont, text=black!80, xshift=11pt},
  minor ytick={-87.5,-85,...,87.5},
  tick align=outside,
  major tick length=6pt, minor tick length=6pt,
  tick style={black, line width=1.1pt},
  axis line style={-, black, line width=1.6pt},
  ylabel={Latitude},
  ylabel style={font=\labfont, at={(axis description cs:1.057,0.5)}, anchor=center, rotate=180},
]
\addplot[draw=none] coordinates {(0,0)};
\end{axis}
% colour bar
\begin{axis}[
  at={(978pt,98pt)}, anchor=south west, scale only axis,
  width=47pt, height=593pt,
  xmin=0, xmax=1, ymin=0, ymax=21,
  xtick=\empty,
  ytick={0,1,...,20},
  yticklabels={-14.50,-4.80,-3.60,-2.40,-1.20,0.00,1.20,2.40,3.60,4.80,6.00,7.20,8.40,9.60,10.80,12.00,13.20,14.40,15.60,16.80,18.00},
  yticklabel pos=right,
  major tick length=0pt,
  yticklabel style={font=\tickfont, text=cbblue, anchor=center, xshift=31pt},
  axis line style={black!55, line width=0.5pt},
]
\addplot[cbbox=cU] coordinates {(0,0) (1,0) (1,1) (0,1)} --cycle;
\addplot[cbbox=cT] coordinates {(0,1) (1,1) (1,2) (0,2)} --cycle;
\addplot[cbbox=cS] coordinates {(0,2) (1,2) (1,3) (0,3)} --cycle;
\addplot[cbbox=cR] coordinates {(0,3) (1,3) (1,4) (0,4)} --cycle;
\addplot[cbbox=cQ] coordinates {(0,4) (1,4) (1,5) (0,5)} --cycle;
\addplot[cbbox=cP] coordinates {(0,5) (1,5) (1,6) (0,6)} --cycle;
\addplot[cbbox=cO] coordinates {(0,6) (1,6) (1,7) (0,7)} --cycle;
\addplot[cbbox=cN] coordinates {(0,7) (1,7) (1,8) (0,8)} --cycle;
\addplot[cbbox=cM] coordinates {(0,8) (1,8) (1,9) (0,9)} --cycle;
\addplot[cbbox=cL] coordinates {(0,9) (1,9) (1,10) (0,10)} --cycle;
\addplot[cbbox=cK] coordinates {(0,10) (1,10) (1,11) (0,11)} --cycle;
\addplot[cbbox=cJ] coordinates {(0,11) (1,11) (1,12) (0,12)} --cycle;
\addplot[cbbox=cI] coordinates {(0,12) (1,12) (1,13) (0,13)} --cycle;
\addplot[cbbox=cH] coordinates {(0,13) (1,13) (1,14) (0,14)} --cycle;
\addplot[cbbox=cG] coordinates {(0,14) (1,14) (1,15) (0,15)} --cycle;
\addplot[cbbox=cF] coordinates {(0,15) (1,15) (1,16) (0,16)} --cycle;
\addplot[cbbox=cE] coordinates {(0,16) (1,16) (1,17) (0,17)} --cycle;
\addplot[cbbox=cD] coordinates {(0,17) (1,17) (1,18) (0,18)} --cycle;
\addplot[cbbox=cC] coordinates {(0,18) (1,18) (1,19) (0,19)} --cycle;
\addplot[cbbox=cB] coordinates {(0,19) (1,19) (1,20) (0,20)} --cycle;
\addplot[cbbox=cA] coordinates {(0,20) (1,20) (1,21) (0,21)} --cycle;
\end{axis}
% cropped copy of the colour bar at the left edge
\begin{axis}[
  at={(-37pt,98pt)}, anchor=south west, scale only axis,
  width=47pt, height=593pt,
  xmin=0, xmax=1, ymin=0, ymax=21,
  xtick=\empty, ytick=\empty,
  axis line style={black!55, line width=0.5pt},
]
\addplot[cbbox=cU] coordinates {(0,0) (1,0) (1,1) (0,1)} --cycle;
\addplot[cbbox=cT] coordinates {(0,1) (1,1) (1,2) (0,2)} --cycle;
\addplot[cbbox=cS] coordinates {(0,2) (1,2) (1,3) (0,3)} --cycle;
\addplot[cbbox=cR] coordinates {(0,3) (1,3) (1,4) (0,4)} --cycle;
\addplot[cbbox=cQ] coordinates {(0,4) (1,4) (1,5) (0,5)} --cycle;
\addplot[cbbox=cP] coordinates {(0,5) (1,5) (1,6) (0,6)} --cycle;
\addplot[cbbox=cO] coordinates {(0,6) (1,6) (1,7) (0,7)} --cycle;
\addplot[cbbox=cN] coordinates {(0,7) (1,7) (1,8) (0,8)} --cycle;
\addplot[cbbox=cM] coordinates {(0,8) (1,8) (1,9) (0,9)} --cycle;
\addplot[cbbox=cL] coordinates {(0,9) (1,9) (1,10) (0,10)} --cycle;
\addplot[cbbox=cK] coordinates {(0,10) (1,10) (1,11) (0,11)} --cycle;
\addplot[cbbox=cJ] coordinates {(0,11) (1,11) (1,12) (0,12)} --cycle;
\addplot[cbbox=cI] coordinates {(0,12) (1,12) (1,13) (0,13)} --cycle;
\addplot[cbbox=cH] coordinates {(0,13) (1,13) (1,14) (0,14)} --cycle;
\addplot[cbbox=cG] coordinates {(0,14) (1,14) (1,15) (0,15)} --cycle;
\addplot[cbbox=cF] coordinates {(0,15) (1,15) (1,16) (0,16)} --cycle;
\addplot[cbbox=cE] coordinates {(0,16) (1,16) (1,17) (0,17)} --cycle;
\addplot[cbbox=cD] coordinates {(0,17) (1,17) (1,18) (0,18)} --cycle;
\addplot[cbbox=cC] coordinates {(0,18) (1,18) (1,19) (0,19)} --cycle;
\addplot[cbbox=cB] coordinates {(0,19) (1,19) (1,20) (0,20)} --cycle;
\addplot[cbbox=cA] coordinates {(0,20) (1,20) (1,21) (0,21)} --cycle;
\end{axis}
\end{tikzpicture}
\end{document}
